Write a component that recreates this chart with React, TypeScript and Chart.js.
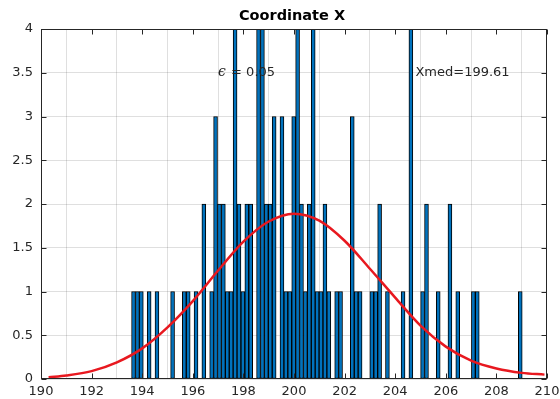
import React, { useEffect, useRef } from "react";
import { Chart, registerables } from "chart.js";

Chart.register(...registerables);

// Histogram of 100 samples over 100 equal-width bins
const HIST_START = 193.58;
const HIST_END = 209.02;
const BIN_COUNTS = [
  1, 1, 1, 0, 1, 0, 1, 0, 0, 0,
  1, 0, 0, 1, 1, 0, 1, 0, 2, 0,
  1, 3, 2, 2, 1, 1, 4, 2, 1, 2,
  2, 0, 4, 4, 2, 2, 3, 0, 3, 1,
  1, 3, 4, 2, 1, 2, 4, 1, 1, 2,
  1, 0, 1, 1, 0, 0, 3, 1, 1, 0,
  0, 1, 1, 2, 0, 1, 0, 0, 0, 1,
  0, 4, 0, 0, 1, 2, 0, 0, 1, 0,
  0, 2, 0, 1, 0, 0, 0, 1, 1, 0,
  0, 0, 0, 0, 0, 0, 0, 0, 0, 1,
];

// Fitted normal curve
const FIT_X = [190.3, 191, 192, 193, 194, 195, 196, 197, 198, 199, 200, 201, 202, 203, 204, 205, 206, 207, 208, 209, 209.9];
const FIT_Y = [0.02, 0.04, 0.09, 0.19, 0.35, 0.59, 0.89, 1.24, 1.57, 1.8, 1.89, 1.81, 1.58, 1.26, 0.93, 0.61, 0.37, 0.21, 0.12, 0.07, 0.05];

const X_TICKS = [190, 192, 194, 196, 198, 200, 202, 204, 206, 208, 210];
const Y_TICKS = [0, 0.5, 1, 1.5, 2, 2.5, 3, 3.5, 4];

const TITLE = "Coordinate X";
const EPS_SYMBOL = "ϵ";
const EPS_TEXT = "= 0.05";
const EPS_POS = [197.0, 3.5];
const MED_TEXT = "Xmed=199.61";
const MED_POS = [204.8, 3.5];

const AXIS_COLOR = "#262626";
const BAR_COLOR = "#0072BD";
const FIT_COLOR = "#e8181f";
const FONT = "'DejaVu Sans', sans-serif";

const decorPlugin = {
  id: "decor",
  afterDatasetsDraw(chart: any) {
    const { ctx, chartArea: a, scales } = chart;
    const xs = scales.x;
    const ys = scales.y;
    ctx.save();

    // text annotations
    ctx.fillStyle = AXIS_COLOR;
    ctx.textBaseline = "middle";
    ctx.textAlign = "left";
    const ex = xs.getPixelForValue(EPS_POS[0]);
    const ey = ys.getPixelForValue(EPS_POS[1]);
    ctx.font = "italic 14px 'DejaVu Serif', serif";
    ctx.fillText(EPS_SYMBOL, ex, ey);
    ctx.font = `13px ${FONT}`;
    ctx.fillText(EPS_TEXT, ex + 13, ey);
    ctx.fillText(MED_TEXT, xs.getPixelForValue(MED_POS[0]), ys.getPixelForValue(MED_POS[1]));

    // axes box
    ctx.strokeStyle = AXIS_COLOR;
    ctx.lineWidth = 1;
    const l = Math.round(a.left) + 0.5;
    const t = Math.round(a.top) + 0.5;
    const r = Math.round(a.right) - 0.5;
    const b = Math.round(a.bottom) - 0.5;
    ctx.strokeRect(l, t, r - l, b - t);

    // inward tick marks on all four sides
    const len = 5;
    ctx.beginPath();
    X_TICKS.forEach((v) => {
      const px = Math.round(xs.getPixelForValue(v)) + 0.5;
      ctx.moveTo(px, b);
      ctx.lineTo(px, b - len);
      ctx.moveTo(px, t);
      ctx.lineTo(px, t + len);
    });
    Y_TICKS.forEach((v) => {
      const py = Math.round(ys.getPixelForValue(v)) + 0.5;
      ctx.moveTo(l, py);
      ctx.lineTo(l + len, py);
      ctx.moveTo(r, py);
      ctx.lineTo(r - len, py);
    });
    ctx.stroke();

    // tick labels
    ctx.fillStyle = AXIS_COLOR;
    ctx.font = `13px ${FONT}`;
    ctx.textAlign = "center";
    ctx.textBaseline = "top";
    X_TICKS.forEach((v) => {
      ctx.fillText(String(v), xs.getPixelForValue(v), a.bottom + 6);
    });
    ctx.textAlign = "right";
    ctx.textBaseline = "middle";
    Y_TICKS.forEach((v) => {
      ctx.fillText(String(v), a.left - 8, ys.getPixelForValue(v));
    });

    // title
    ctx.fillStyle = "#000000";
    ctx.font = `bold 14.5px ${FONT}`;
    ctx.textAlign = "center";
    ctx.textBaseline = "middle";
    ctx.fillText(TITLE, 292, 16.5);

    ctx.restore();
  },
};

export default function App() {
  const canvasRef = useRef<HTMLCanvasElement | null>(null);

  useEffect(() => {
    if (!canvasRef.current) return;
    const binWidth = (HIST_END - HIST_START) / BIN_COUNTS.length;
    const bars = BIN_COUNTS.map((c, i) => ({
      x: HIST_START + (i + 0.5) * binWidth,
      y: c === 0 ? null : c,
    }));
    const fit = FIT_X.map((x, i) => ({ x, y: FIT_Y[i] }));

    const chart = new Chart(canvasRef.current, {
      type: "bar",
      data: {
        datasets: [
          {
            type: "line",
            data: fit,
            borderColor: FIT_COLOR,
            borderWidth: 2.5,
            pointRadius: 0,
            cubicInterpolationMode: "monotone",
            fill: false,
            order: 0,
          } as any,
          {
            type: "bar",
            data: bars as any,
            backgroundColor: BAR_COLOR,
            borderColor: "#000000",
            borderWidth: 1,
            borderSkipped: false,
            barPercentage: 1,
            categoryPercentage: 1,
            order: 1,
          } as any,
        ],
      },
      options: {
        responsive: false,
        animation: false,
        layout: { padding: { left: 0, right: 13, top: 29, bottom: 0 } },
        plugins: {
          legend: { display: false },
          tooltip: { enabled: false },
          title: { display: false },
        },
        scales: {
          x: {
            type: "linear",
            offset: false,
            min: X_TICKS[0],
            max: X_TICKS[X_TICKS.length - 1],
            afterFit: (s: any) => {
              s.height = 20;
            },
            afterBuildTicks: (s: any) => {
              s.ticks = X_TICKS.map((v) => ({ value: v }));
            },
            ticks: { display: false },
            grid: { color: "rgba(38,38,38,0.15)", drawTicks: false },
            border: { display: false },
          },
          y: {
            type: "linear",
            min: Y_TICKS[0],
            max: Y_TICKS[Y_TICKS.length - 1],
            afterFit: (s: any) => {
              s.width = 41;
            },
            afterBuildTicks: (s: any) => {
              s.ticks = Y_TICKS.map((v) => ({ value: v }));
            },
            ticks: { display: false },
            grid: { color: "rgba(38,38,38,0.15)", drawTicks: false },
            border: { display: false },
          },
        },
      },
      plugins: [decorPlugin],
    });

    return () => chart.destroy();
  }, []);

  return (
    <div style={{ position: "fixed", left: 0, top: 0, width: 560, height: 399, background: "#ffffff" }}>
      <canvas ref={canvasRef} width={560} height={399} />
    </div>
  );
}
